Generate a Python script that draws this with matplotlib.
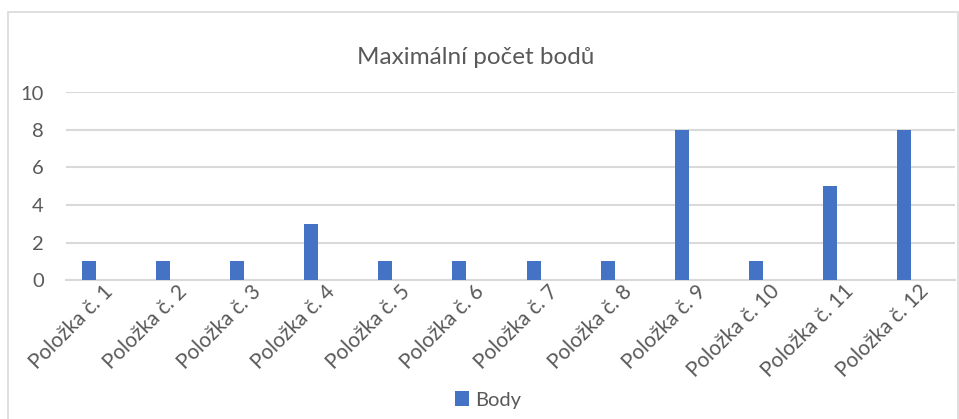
"""Bar chart: maximum points per item (Excel-style look)."""

import matplotlib

matplotlib.use("Agg")
import matplotlib.pyplot as plt
import numpy as np
from matplotlib.patches import Rectangle

categories = [f"Položka č. {i}" for i in range(1, 13)]
body = [1, 1, 1, 3, 1, 1, 1, 1, 8, 1, 5, 8]
y_ticks = [0, 2, 4, 6, 8, 10]

BLUE = "#4472C4"
TEXT = "#595959"
GRID = "#D9D9D9"

plt.rcParams["font.family"] = ["Lato", "DejaVu Sans"]

fig = plt.figure(figsize=(9.59, 4.19), dpi=100)
ax = fig.add_axes([66 / 959, 139 / 419, 889 / 959, 187.5 / 419])

# chart area border
fig.patches.append(
    Rectangle((8 / 959, -0.05), 950 / 959, 1.05 - 12 / 419,
              transform=fig.transFigure, fill=False, edgecolor=GRID, linewidth=1.2)
)

x = np.arange(len(categories))
w = 14 / 74.1
ax.bar(x - w, body, width=w, color=BLUE, label="Body", zorder=3)

ax.set_xlim(-0.5, len(categories) - 0.5)
ax.set_ylim(0, 10)
ax.set_yticks(y_ticks)
ax.set_yticklabels([str(v) for v in y_ticks], fontsize=14.5, color=TEXT)
ax.yaxis.grid(True, color=GRID, linewidth=1.5, zorder=0)
ax.set_xticks(x)
ax.set_xticklabels(categories, rotation=45, ha="right", va="top",
                   rotation_mode="anchor", fontsize=15, color=TEXT)
ax.tick_params(axis="both", length=0)
ax.tick_params(axis="y", pad=16)
ax.tick_params(axis="x", pad=1)
for side in ["top", "right", "left"]:
    ax.spines[side].set_visible(False)
ax.spines["bottom"].set_color(GRID)
ax.spines["bottom"].set_linewidth(1.5)

fig.text(476 / 959, 1 - 57 / 419, "Maximální počet bodů", ha="center", va="center",
         fontsize=17.5, color=TEXT)

fig.legend(loc="center", bbox_to_anchor=(488 / 959, 1 - 400 / 419), frameon=False,
           fontsize=14.5, labelcolor=TEXT, handlelength=0.7, handleheight=0.7,
           handletextpad=0.3)

fig.savefig("out.png", dpi=100)
